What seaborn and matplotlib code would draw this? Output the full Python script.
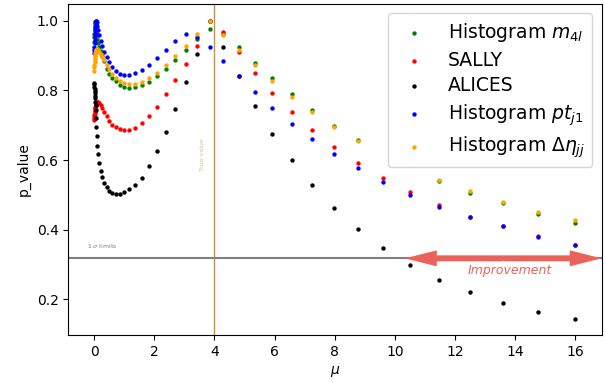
import matplotlib
matplotlib.use("Agg")
import matplotlib.pyplot as plt
import seaborn as sns
import pandas as pd

nan = float("nan")

# ---- data ----
mu = [0.0, 0.006, 0.012, 0.018, 0.024, 0.030, 0.036, 0.042, 0.048, 0.054, 0.060,
      0.070, 0.080, 0.090, 0.110, 0.143, 0.176, 0.223, 0.276, 0.342, 0.422, 0.508,
      0.608, 0.721, 0.864, 1.007, 1.173, 1.362, 1.585, 1.827, 2.093, 2.382, 2.691,
      3.047, 3.432, 3.854, 4.296, 4.807, 5.349, 5.924, 6.568, 7.243, 7.973, 8.761,
      9.601, 10.508, 11.472, 12.492, 13.588, 14.761, 16.0]

hist_m4l = [0.940, 0.952, 0.963, 0.972, 0.980, 0.987, 0.992, 0.995, 0.996, 0.994, 0.990,
            0.982, 0.972, 0.962, 0.948, 0.935, 0.925, 0.914, 0.900, 0.883, 0.862, 0.848,
            0.836, 0.826, 0.816, 0.810, 0.808, 0.809, 0.815, 0.825, 0.841, 0.862, 0.887,
            0.916, 0.948, 0.977, 0.962, 0.924, 0.880, 0.835, 0.790, 0.745, 0.699, 0.657,
            nan, nan, 0.541, 0.505, 0.478, 0.445, 0.419]

sally = [0.716, 0.722, 0.728, 0.733, 0.738, 0.742, 0.746, 0.750, 0.753, 0.756, 0.758,
         0.762, 0.765, 0.767, 0.768, 0.767, 0.763, 0.757, 0.749, 0.739, 0.726, 0.713,
         0.701, 0.694, 0.688, 0.686, 0.686, 0.693, 0.706, 0.726, 0.753, 0.789, 0.830,
         0.877, 0.928, 1.000, 0.968, 0.909, 0.851, 0.793, 0.739, 0.686, 0.638, 0.591,
         0.548, 0.508, 0.471, 0.438, 0.410, 0.381, 0.356]

alices = [0.822, 0.817, 0.811, 0.805, 0.799, 0.792, 0.785, 0.777, 0.768, 0.758, 0.745,
          0.720, 0.696, 0.669, 0.641, 0.617, 0.593, 0.570, 0.551, 0.535, 0.522, 0.511,
          0.505, 0.502, 0.503, 0.508, 0.516, 0.529, 0.548, 0.583, 0.625, 0.682, 0.748,
          0.823, 0.904, 1.000, 0.925, 0.840, 0.756, 0.676, 0.600, 0.528, 0.462, 0.402,
          0.347, 0.299, 0.256, 0.222, 0.191, 0.165, 0.143]

hist_ptj1 = [0.906, 0.915, 0.925, 0.935, 0.945, 0.955, 0.964, 0.973, 0.981, 0.988, 0.994,
             0.999, 1.000, 0.995, 0.985, 0.972, 0.959, 0.942, 0.926, 0.911, 0.897, 0.882,
             0.868, 0.857, 0.848, 0.843, 0.844, 0.849, 0.859, 0.874, 0.893, 0.916, 0.941,
             0.962, 0.954, 0.924, 0.884, 0.840, 0.795, 0.750, 0.705, 0.660, 0.617, 0.576,
             0.536, 0.500, 0.466, 0.436, 0.410, 0.380, 0.356]

hist_deta = [0.857, 0.866, 0.874, 0.881, 0.888, 0.894, 0.899, 0.903, 0.907, 0.910, 0.912,
             0.915, 0.917, 0.918, 0.918, 0.915, 0.911, 0.905, 0.897, 0.886, 0.873, 0.860,
             0.847, 0.835, 0.826, 0.820, 0.817, 0.818, 0.824, 0.835, 0.851, 0.872, 0.898,
             0.927, 0.963, 1.000, 0.959, 0.916, 0.872, 0.827, 0.782, 0.737, 0.696, 0.654,
             nan, nan, 0.543, 0.510, 0.481, 0.452, 0.428]

labels = ["Histogram $m_{4l}$", "SALLY", "ALICES", "Histogram $pt_{j1}$",
          "Histogram $\\Delta\\eta_{jj}$"]
colors = ["green", "red", "black", "blue", "orange"]
series = [hist_m4l, sally, alices, hist_ptj1, hist_deta]

true_mu = 4.0
one_sigma = 0.32

# ---- plot ----
fig = plt.figure(figsize=(6.05, 3.83), dpi=100)
ax = fig.add_axes([0.1129, 0.1253, 0.9945 - 0.1129, 0.9896 - 0.1253])

for lab, col, vals in zip(labels, colors, series):
    df = pd.DataFrame({"mu": mu, "p": vals}).dropna()
    sns.scatterplot(data=df, x="mu", y="p", color=col, label=lab, s=10,
                    linewidth=0, ax=ax)

ax.axvline(true_mu, color="#C8923A", lw=1)
ax.text(3.62, 0.615, "True value", rotation=90, ha="center", va="center",
        fontsize=4.5, color="#C8923A", alpha=0.6)

ax.axhline(one_sigma, color="gray", lw=1.5)
ax.text(-0.24, 0.347, r"1 $\sigma$ limits", fontsize=4.5, color="gray",
        ha="left", va="baseline")

arrow_col = "#EA6259"
mid = 13.6
for end in (10.33, 16.87):
    ax.annotate("", xy=(end, 0.318), xytext=(mid, 0.318),
                arrowprops=dict(arrowstyle="simple,head_length=2.3,head_width=1.15,tail_width=0.43",
                                color=arrow_col, lw=0, shrinkA=0, shrinkB=0))
ax.text(13.82, 0.282, "Improvement", color=arrow_col, fontsize=9,
        ha="center", va="center", style="italic")

ax.set_xlim(-0.854, 16.87)
ax.set_ylim(0.098, 1.048)
ax.set_xlabel(r"$\mu$", fontsize=10)
ax.set_ylabel("p_value", fontsize=10)

ax.legend(loc="upper right", fontsize=13.5, labelspacing=0.36)

fig.savefig("out.png", dpi=100)
